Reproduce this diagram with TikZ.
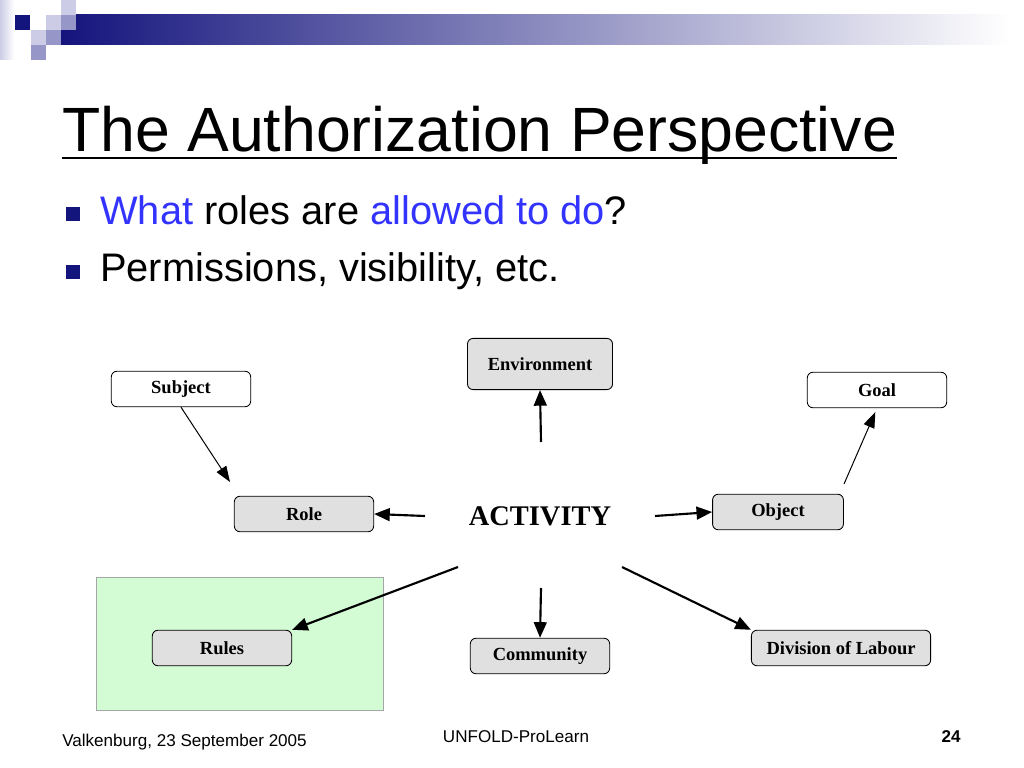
\documentclass[tikz,border=0pt]{standalone}
\usepackage{fontspec}
\setmainfont{Liberation Sans}
\newfontfamily\diagfont{Liberation Serif}
\usetikzlibrary{arrows.meta,calc}
\definecolor{barnavy}{RGB}{20,20,125}
\definecolor{sqlight}{RGB}{204,204,230}
\definecolor{sqmid}{RGB}{150,150,200}
\definecolor{askblue}{RGB}{51,51,255}
\definecolor{boxgray}{RGB}{224,224,224}
\definecolor{rulegreen}{RGB}{212,252,212}
\tikzset{
  box/.style={draw, rounded corners=4pt, line width=0.6pt, minimum height=25pt, minimum width=98pt, font=\diagfont\bfseries\fontsize{13}{15}\selectfont},
  graybox/.style={box, fill=boxgray},
  whitebox/.style={box, fill=white},
  flow/.style={-{Triangle[length=11pt,width=9pt]}, line width=1.5pt},
  hint/.style={-{Triangle[length=11pt,width=8pt]}, line width=0.7pt},
  bullet/.style={fill=barnavy, inner sep=0pt, minimum size=10pt},
  slidetext/.style={anchor=base west, inner sep=0pt, font=\fontsize{28}{28}\selectfont},
  foot/.style={inner sep=0pt, font=\fontsize{12}{12}\selectfont}
}
\begin{document}
\begin{tikzpicture}[x=0.703125pt, y=-0.703125pt]
    \useasboundingbox (0,0) rectangle (1024,768);
    \shade[left color=sqlight, right color=white] (0,0) rectangle (14,60);
    \shade[left color=barnavy, right color=white] (61,15) rectangle (1010,45);
    \foreach \x/\y/\c in {15/15/barnavy, 61/0/sqlight, 46/15/sqlight, 61/15/sqmid, 31/30/sqlight, 46/30/sqmid, 31/45/sqmid}
        \fill[\c] (\x,\y) rectangle ++(15,15);

    \node[anchor=base west, inner sep=0pt, font=\fontsize{44}{44}\selectfont] (title) at (62,152) {The Authorization Perspective};
    \draw[line width=2pt] ($(title.base west)+(0,6)$) -- ($(title.base east)+(0,6)$);

    \node[bullet] (b1) at (73,214) {};
    \node[slidetext] (ask) at (100,225) {\textcolor{askblue}{What} roles are \textcolor{askblue}{allowed to do}?};
    \node[bullet] (b2) at (73,272) {};
    \node[slidetext] (perm) at (100,282) {Permissions, visibility, etc.};

    \draw[draw=gray!70, fill=rulegreen] (96,577) rectangle (383,710);

    \node[graybox, minimum width=102pt, minimum height=36pt] (env) at (540,364) {Environment};
    \node[whitebox] (subj) at (181,389) {Subject};
    \node[whitebox] (goal) at (877,390) {Goal};
    \node[graybox] (role) at (304,514) {Role};
    \node[font=\diagfont\bfseries\fontsize{20}{20}\selectfont] (act) at (540,516) {ACTIVITY};
    \node[graybox, minimum width=92pt] (obj) at (778,512) {Object};
    \node[graybox] (rules) at (222,648) {Rules};
    \node[graybox] (comm) at (540,656) {Community};
    \node[graybox, minimum width=126pt] (div) at (841,648) {Division of Labour};

    \coordinate (aN) at (541,442);
    \coordinate (aW) at (425,516);
    \coordinate (aE) at (655,516);
    \coordinate (aSW) at (458,567);
    \coordinate (aS) at (541,588);
    \coordinate (aSE) at (622,567);
    \coordinate (roleNW) at (230,482);
    \coordinate (objNE) at (844,484);

    \draw[hint] (subj.south) -- (roleNW);
    \draw[hint, shorten >=3pt] (objNE) -- (goal.south);
    \draw[flow] (aN) -- (env.south);
    \draw[flow] (aW) -- (role.east);
    \draw[flow] (aE) -- (obj.west);
    \draw[flow] (aSW) -- (rules.north east);
    \draw[flow] (aS) -- (comm.north);
    \draw[flow] (aSE) -- (div.north west);

    \node[foot, anchor=base west] (place) at (62,746) {Valkenburg, 23 September 2005};
    \node[foot, anchor=base] (proj) at (516,742) {UNFOLD-ProLearn};
    \node[foot, anchor=base east, font=\bfseries\fontsize{12}{12}\selectfont] (page) at (961,742) {24};
\end{tikzpicture}
\end{document}
